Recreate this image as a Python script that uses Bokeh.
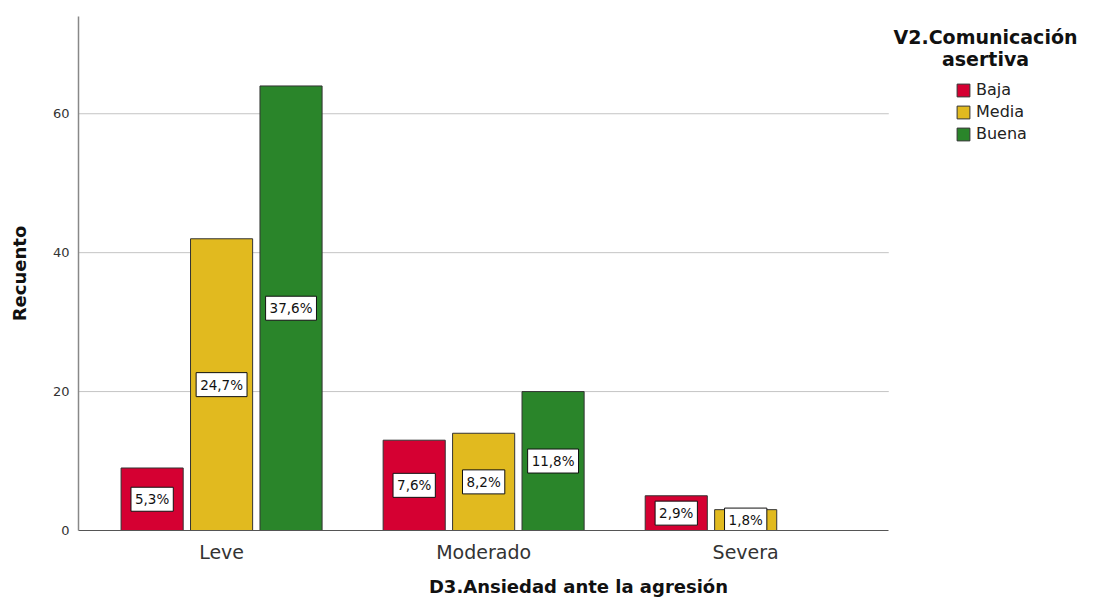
from bokeh.plotting import figure
from bokeh.models import (ColumnDataSource, FixedTicker, Legend, LegendItem, Label, Range1d)
from bokeh.core.properties import value
from bokeh.embed import file_html
from bokeh.resources import INLINE

categories = ["Leve", "Moderado", "Severa"]
series = ["Baja", "Media", "Buena"]
baja = [9, 13, 5]
media = [42, 14, 3]
buena = [64, 20, 0]
baja_pct = ["5,3%", "7,6%", "2,9%"]
media_pct = ["24,7%", "8,2%", "1,8%"]
buena_pct = ["37,6%", "11,8%", ""]
colors = ["#D50032", "#E1BA1F", "#2A852A"]
y_ticks = [0, 20, 40, 60]

FONT = "DejaVu Sans"

# data region in x (category index units); frame extends further right for the legend
X_LO, X_HI = -0.546, 2.546
X_FRAME_HI = 3.27
Y_MAX = 74

p = figure(width=1078, height=600, output_backend="svg", toolbar_location=None,
           x_range=Range1d(X_LO, X_FRAME_HI), y_range=Range1d(0, Y_MAX),
           min_border_left=78, min_border_right=0, min_border_top=16, min_border_bottom=70)
p.outline_line_color = None
p.background_fill_color = "white"
p.border_fill_color = "white"

# horizontal gridlines limited to the data region
grid_src = ColumnDataSource(dict(y=[t for t in y_ticks if t > 0]))
p.segment(x0=X_LO, x1=X_HI, y0="y", y1="y", source=grid_src, line_color="#C4C4C4",
          line_width=1, level="underlay")

offsets = [-0.265, 0.0, 0.265]
bar_w = 0.237
renderers = []
for vals, pcts, col, off in zip([baja, media, buena], [baja_pct, media_pct, buena_pct], colors, offsets):
    xs = [i + off for i, v in enumerate(vals) if v > 0]
    ys = [v for v in vals if v > 0]
    ls = [t for t, v in zip(pcts, vals) if v > 0]
    src = ColumnDataSource(dict(x=xs, top=ys, mid=[v / 2 for v in ys], lab=ls))
    r = p.vbar(x="x", top="top", width=bar_w, source=src, fill_color=col,
               line_color="#333333", line_width=1)
    renderers.append(r)
    p.text(x="x", y="mid", text="lab", source=src, text_align="center",
           text_baseline="middle", text_font=value(FONT), text_font_size="13.5px",
           text_color="#111111", background_fill_color="white",
           border_line_color="#111111", border_line_width=1, padding=4)

# axes
p.xaxis.bounds = (X_LO, X_HI)
p.xaxis.ticker = FixedTicker(ticks=[0, 1, 2])
p.xaxis.major_label_overrides = {0: categories[0], 1: categories[1], 2: categories[2]}
p.xaxis.major_tick_line_color = None
p.xaxis.major_tick_out = 0
p.xaxis.minor_tick_line_color = None
p.xaxis.minor_tick_out = 0
p.xaxis.axis_line_color = "#555555"
p.xaxis.axis_line_width = 1
p.xaxis.major_label_text_font = FONT
p.xaxis.major_label_text_font_size = "19px"
p.xaxis.major_label_text_color = "#333333"
p.xaxis.major_label_standoff = 10
p.xaxis.axis_label = "D3.Ansiedad ante la agresión"
p.xaxis.axis_label_text_font = FONT
p.xaxis.axis_label_text_font_size = "18px"
p.xaxis.axis_label_text_font_style = "bold"
p.xaxis.axis_label_text_color = "#111111"
p.xaxis.axis_label_standoff = 10

p.yaxis.ticker = FixedTicker(ticks=y_ticks)
p.yaxis.major_tick_line_color = None
p.yaxis.major_tick_out = 0
p.yaxis.minor_tick_line_color = None
p.yaxis.minor_tick_out = 0
p.yaxis.axis_line_color = "#888888"
p.yaxis.axis_line_width = 1.5
p.yaxis.major_label_text_font = FONT
p.yaxis.major_label_text_font_size = "13px"
p.yaxis.major_label_text_color = "#333333"
p.yaxis.major_label_standoff = 9
p.yaxis.axis_label = "Recuento"
p.yaxis.axis_label_text_font = FONT
p.yaxis.axis_label_text_font_size = "18px"
p.yaxis.axis_label_text_font_style = "bold"
p.yaxis.axis_label_text_color = "#111111"
p.yaxis.axis_label_standoff = 20

p.xgrid.grid_line_color = None
p.ygrid.grid_line_color = None

# legend
items = [LegendItem(label=s, renderers=[r]) for s, r in zip(series, renderers)]
legend = Legend(items=items, location=(877, 387), glyph_width=16, glyph_height=16,
                label_height=17, spacing=3, padding=0, margin=0, label_standoff=5,
                label_text_font=FONT, label_text_font_size="16px", label_text_color="#222222",
                border_line_color=None, background_fill_alpha=0)
p.add_layout(legend)

for txt, yy in [("V2.Comunicación", 494), ("asertiva", 472)]:
    p.add_layout(Label(x=907, y=yy, x_units="screen", y_units="screen", text=txt,
                       text_align="center", text_baseline="middle", text_font=FONT,
                       text_font_size="19px", text_font_style="bold", text_color="#111111"))

open("out.html", "w").write(file_html(p, INLINE))
